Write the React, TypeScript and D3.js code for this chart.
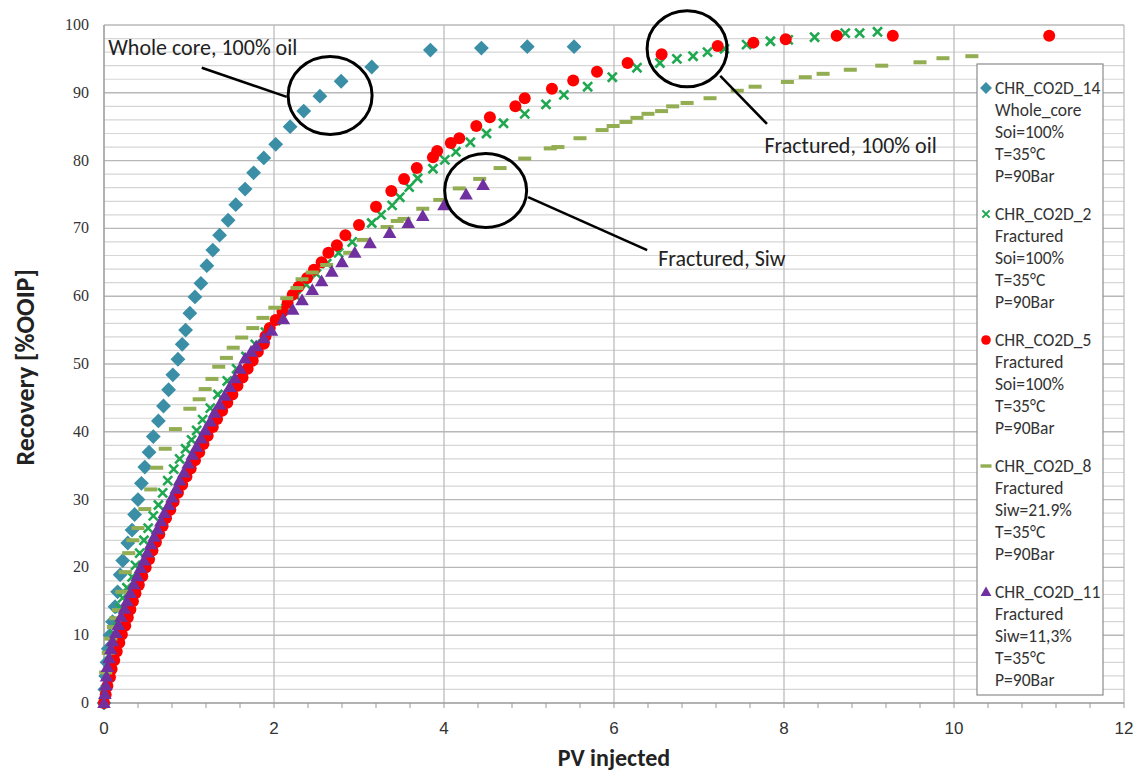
import React from "react";
import * as d3 from "d3";

// PV injected vs recovery
const co2d14: [number, number][] = [
  [0, 0], [0.01, 2], [0.02, 4], [0.035, 6], [0.05, 8], [0.07, 10], [0.1, 12], [0.13, 14.2],
  [0.16, 16.4], [0.19, 18.9], [0.22, 21], [0.28, 23.6], [0.33, 25.5], [0.36, 27.8], [0.4, 30],
  [0.44, 32.4], [0.48, 34.8], [0.53, 37], [0.58, 39.3], [0.64, 41.6], [0.7, 43.8], [0.76, 46.2],
  [0.81, 48.4], [0.87, 50.7], [0.92, 52.9], [0.96, 55], [1.01, 57.5], [1.07, 59.9], [1.14, 61.9],
  [1.21, 64.5], [1.28, 66.8], [1.36, 69], [1.46, 71.2], [1.55, 73.5], [1.66, 75.8], [1.76, 78.2],
  [1.88, 80.4], [2.02, 82.4], [2.19, 85], [2.35, 87.3], [2.54, 89.5], [2.79, 91.7], [3.15, 93.8],
  [3.84, 96.3], [4.44, 96.6], [4.98, 96.8], [5.53, 96.8],
];

const co2d2: [number, number][] = [
  [0, 0], [0.02, 2], [0.04, 4], [0.06, 6], [0.09, 8], [0.12, 10], [0.15, 12], [0.19, 14],
  [0.22, 15.5], [0.27, 17], [0.33, 18.6], [0.37, 20.3], [0.42, 22.1], [0.47, 24], [0.52, 25.8],
  [0.58, 27.6], [0.64, 29.2], [0.69, 31], [0.75, 32.8], [0.82, 34.5], [0.89, 36], [0.96, 37.5],
  [1.03, 38.8], [1.09, 40.2], [1.16, 41.8], [1.25, 43.5], [1.34, 45.5], [1.45, 47.5], [1.56, 49.3],
  [1.67, 51.1], [1.78, 52.9], [1.9, 54.7], [2.02, 56.4], [2.14, 58.2], [2.26, 60], [2.38, 61.7],
  [2.5, 63.3], [2.62, 64.8], [2.76, 66.4], [2.92, 68], [3.15, 70.8], [3.26, 72], [3.39, 73.4],
  [3.48, 74.6], [3.59, 76.1], [3.69, 77.4], [3.87, 78.8], [4.01, 80.1], [4.14, 81.3], [4.31, 82.7],
  [4.5, 84], [4.7, 85.5], [4.95, 86.9], [5.2, 88.3], [5.41, 89.7], [5.69, 90.9], [5.98, 92.3],
  [6.27, 93.7], [6.54, 94.4], [6.74, 95], [6.93, 95.4], [7.1, 96], [7.3, 96.5], [7.56, 97.1],
  [7.84, 97.6], [8.05, 97.8], [8.36, 98.2], [8.72, 98.8], [8.89, 98.8], [9.1, 99],
];

const co2d5: [number, number][] = [
  [0, 0], [0.02, 1.2], [0.04, 2.5], [0.07, 3.8], [0.09, 5], [0.12, 6.3], [0.15, 7.6], [0.18, 8.9],
  [0.21, 10.1], [0.25, 11.4], [0.28, 12.6], [0.31, 13.8], [0.34, 15], [0.37, 16.2], [0.41, 17.4],
  [0.45, 18.7], [0.49, 20], [0.53, 21.2], [0.57, 22.5], [0.61, 23.7], [0.65, 24.9], [0.69, 26.1],
  [0.73, 27.3], [0.78, 28.5], [0.82, 29.7], [0.87, 31], [0.92, 32.2], [0.97, 33.4], [1.02, 34.6],
  [1.07, 35.8], [1.12, 37], [1.17, 38.2], [1.22, 39.4], [1.28, 40.7], [1.33, 41.9], [1.39, 43.1],
  [1.45, 44.3], [1.51, 45.5], [1.57, 46.8], [1.63, 48], [1.69, 49.3], [1.75, 50.5], [1.81, 51.8],
  [1.88, 53], [1.9, 54.1], [1.95, 55.3], [2.02, 56.5], [2.1, 57.7], [2.16, 59], [2.22, 60.2],
  [2.29, 61.4], [2.39, 62.7], [2.47, 63.9], [2.56, 65], [2.64, 66.4], [2.74, 67.5], [2.84, 69],
  [3.0, 70.5], [3.2, 73.2], [3.38, 75.5], [3.53, 77.3], [3.68, 78.9], [3.87, 80.5], [3.92, 81.4],
  [4.08, 82.6], [4.18, 83.3], [4.38, 85.1], [4.54, 86.4], [4.84, 88], [4.95, 89.2], [5.27, 90.6],
  [5.52, 91.8], [5.8, 93.1], [6.16, 94.4], [6.56, 95.7], [7.22, 96.9], [7.64, 97.4], [8.02, 97.9],
  [8.62, 98.4], [9.28, 98.4], [11.12, 98.4],
];

const co2d8: [number, number][] = [
  [0.02, 4.5], [0.05, 7.4], [0.08, 9.5], [0.11, 11.2], [0.14, 12.5], [0.17, 13.7], [0.21, 16.4],
  [0.25, 19.3], [0.29, 22.1], [0.34, 24], [0.4, 25.8], [0.48, 28.6], [0.55, 31.5], [0.62, 34.7],
  [0.72, 37.5], [0.84, 40.4], [1.01, 43.4], [1.12, 44.8], [1.19, 46.3], [1.27, 47.8], [1.35, 49.6],
  [1.44, 50.9], [1.52, 52.4], [1.62, 53.9], [1.75, 55.3], [1.87, 56.8], [2.01, 58.3], [2.15, 59.7],
  [2.27, 61.2], [2.33, 62.5], [2.45, 63.5], [2.62, 64.6], [2.89, 66.4], [3.05, 68.3], [3.33, 70.2],
  [3.45, 71.1], [3.53, 71.4], [3.75, 72.9], [3.95, 74.2], [4.18, 75.9], [4.42, 77.3], [4.66, 78.9],
  [4.95, 80.3], [5.25, 81.8], [5.34, 82], [5.6, 83.3], [5.86, 84.5], [5.99, 85.1], [6.14, 85.7],
  [6.27, 86.3], [6.4, 86.9], [6.56, 87.3], [6.69, 88], [6.86, 88.5], [7.13, 89.2], [7.45, 90.3],
  [7.66, 90.9], [8.04, 91.6], [8.25, 92.3], [8.46, 92.8], [8.78, 93.4], [9.15, 94], [9.6, 94.5],
  [9.87, 95.1], [10.21, 95.4],
];

const co2d11: [number, number][] = [
  [0, 0], [0.01, 1.3], [0.02, 2.6], [0.03, 3.9], [0.04, 5.3], [0.06, 6.6], [0.08, 7.9], [0.1, 9.1],
  [0.14, 10.3], [0.17, 11.5], [0.2, 12.7], [0.24, 13.9], [0.27, 15], [0.31, 16.2], [0.35, 17.5],
  [0.39, 18.7], [0.43, 19.9], [0.47, 21], [0.51, 22.2], [0.55, 23.4], [0.59, 24.5], [0.63, 25.6],
  [0.67, 26.8], [0.71, 28], [0.76, 29.2], [0.8, 30.3], [0.85, 31.6], [0.89, 32.8], [0.94, 34],
  [0.99, 35.3], [1.04, 36.6], [1.09, 37.8], [1.14, 39], [1.19, 40.2], [1.25, 41.5], [1.3, 42.8],
  [1.36, 44], [1.42, 45.3], [1.48, 46.6], [1.54, 47.9], [1.6, 49.3], [1.66, 50.8], [1.73, 51.8],
  [1.79, 52.6], [1.88, 53.8], [1.97, 54.9], [2.11, 56.6], [2.22, 58], [2.33, 59.4], [2.45, 60.9],
  [2.56, 62.2], [2.68, 63.6], [2.8, 65], [2.95, 66.4], [3.13, 67.8], [3.36, 69.3], [3.58, 70.8],
  [3.75, 71.8], [4.0, 73.4], [4.26, 75], [4.46, 76.4],
];

const xTicks = [0, 2, 4, 6, 8, 10, 12];
const yTicks = [0, 10, 20, 30, 40, 50, 60, 70, 80, 90, 100];

const legendLines = [
  ["CHR_CO2D_14", "Whole_core", "Soi=100%", "T=35\u00B0C", "P=90Bar"],
  ["CHR_CO2D_2", "Fractured", "Soi=100%", "T=35\u00B0C", "P=90Bar"],
  ["CHR_CO2D_5", "Fractured", "Soi=100%", "T=35\u00B0C", "P=90Bar"],
  ["CHR_CO2D_8", "Fractured", "Siw=21.9%", "T=35\u00B0C", "P=90Bar"],
  ["CHR_CO2D_11", "Fractured", "Siw=11,3%", "T=35\u00B0C", "P=90Bar"],
];

// annotations: label, label pos, circle center, circle radii, leader line end (data coords)
const notes = [
  { text: "Whole core, 100% oil", tx: 0.05, ty: 95.6, cx: 2.66, cy: 89.6, rx: 42, ry: 39, lx1: 1.15, ly1: 93.7, lx2: 2.15, ly2: 89.4 },
  { text: "Fractured, 100% oil", tx: 7.77, ty: 81.1, cx: 6.86, cy: 96.5, rx: 40, ry: 38, lx1: 7.25, ly1: 92.5, lx2: 7.8, ly2: 85.4 },
  { text: "Fractured, Siw", tx: 6.52, ty: 64.5, cx: 4.49, cy: 75.6, rx: 41, ry: 37, lx1: 4.99, ly1: 74.6, lx2: 6.39, ly2: 66.8 },
];

const W = 1133;
const H = 776;
const margin = { top: 25, right: 9, bottom: 73, left: 104 };

const x = d3.scaleLinear().domain([0, 12]).range([margin.left, W - margin.right]);
const y = d3.scaleLinear().domain([0, 100]).range([H - margin.bottom, margin.top]);

const colors = {
  blue: "#3a8fa6",
  green: "#1fa850",
  red: "#ff0000",
  olive: "#93ad52",
  purple: "#7030a0",
};

const diamond = d3.symbol(d3.symbolSquare, 110)()!;
const triangle = d3.symbol(d3.symbolTriangle, 80)()!;
const cross = d3.symbol(d3.symbolX, 55)()!;

const Diamond = ({ px, py }: { px: number; py: number }) => (
  <path d={diamond} transform={`translate(${px},${py}) rotate(45)`} fill={colors.blue} />
);
const Cross = ({ px, py }: { px: number; py: number }) => (
  <path d={cross} transform={`translate(${px},${py})`} fill="none" stroke={colors.green} strokeWidth={2.6} />
);
const Dot = ({ px, py }: { px: number; py: number }) => (
  <circle cx={px} cy={py} r={6} fill={colors.red} />
);
const Dash = ({ px, py }: { px: number; py: number }) => (
  <rect x={px - 6.5} y={py - 2} width={13} height={4} fill={colors.olive} />
);
const Tri = ({ px, py }: { px: number; py: number }) => (
  <path d={triangle} transform={`translate(${px},${py + 1})`} fill={colors.purple} />
);

const markers = [Diamond, Cross, Dot, Dash, Tri];
const seriesList = [co2d14, co2d2, co2d5, co2d8, co2d11];

export default function App() {
  const minorY = d3.range(0, 101, 2);
  const minorX = d3.range(0, 12.01, 0.4);
  const font = "Carlito, 'Open Sans', 'Noto Sans', sans-serif";

  return (
    <svg width={W} height={H} style={{ position: "absolute", left: 0, top: 0, background: "#fff" }}>
      {/* horizontal grid */}
      {minorY.map((v) => (
        <line key={"h" + v} x1={x(0)} x2={x(12)} y1={y(v)} y2={y(v)}
          stroke={v % 10 === 0 ? "#b8b8b8" : "#d6d6d6"} strokeWidth={v % 10 === 0 ? 1.4 : 1.2} />
      ))}
      {/* vertical grid */}
      {xTicks.map((v) => (
        <line key={"v" + v} x1={x(v)} x2={x(v)} y1={y(0)} y2={y(100)} stroke="#b8b8b8" strokeWidth={1.2} />
      ))}
      {/* minor ticks on x axis */}
      {minorX.map((v, i) => (
        <line key={"t" + i} x1={x(v)} x2={x(v)} y1={y(0)} y2={y(0) + 5} stroke="#999" strokeWidth={1} />
      ))}
      <line x1={x(0)} x2={x(12)} y1={y(0)} y2={y(0)} stroke="#999" strokeWidth={1.2} />
      <line x1={x(0)} x2={x(0)} y1={y(0)} y2={y(100)} stroke="#999" strokeWidth={1.2} />

      {/* tick labels */}
      {yTicks.map((v) => (
        <text key={"yl" + v} x={x(0) - 15} y={y(v) + 5} textAnchor="end"
          fontFamily="'Liberation Serif', serif" fontSize={16} fill="#333">{v}</text>
      ))}
      {xTicks.map((v) => (
        <text key={"xl" + v} x={x(v)} y={y(0) + 31} textAnchor="middle"
          fontFamily="'Liberation Sans Narrow', 'Liberation Sans', sans-serif" fontSize={17} fill="#333">{v}</text>
      ))}

      {/* axis titles */}
      <text x={(x(0) + x(12)) / 2} y={766} textAnchor="middle" fontFamily={font}
        fontWeight="bold" fontSize={24} fill="#222">PV injected</text>
      <text transform={`translate(34,${y(49.5)}) rotate(-90)`} textAnchor="middle" fontFamily={font}
        fontWeight="bold" fontSize={26} fill="#222">Recovery [%OOIP]</text>

      {/* series */}
      {seriesList.map((s, si) => {
        const M = markers[si];
        return (
          <g key={"s" + si}>
            {s.map(([a, b], i) => <M key={i} px={x(a)} py={y(b)} />)}
          </g>
        );
      })}

      {/* annotations */}
      {notes.map((n, i) => (
        <g key={"n" + i}>
          <ellipse cx={x(n.cx)} cy={y(n.cy)} rx={n.rx} ry={n.ry} fill="none" stroke="#000" strokeWidth={3} />
          <line x1={x(n.lx1)} y1={y(n.ly1)} x2={x(n.lx2)} y2={y(n.ly2)} stroke="#000" strokeWidth={2.5} />
          <text x={x(n.tx)} y={y(n.ty)} fontFamily={font} fontSize={22} fill="#222">{n.text}</text>
        </g>
      ))}

      {/* legend */}
      <rect x={977} y={64} width={126} height={631} fill="#fff" stroke="#8c8c8c" strokeWidth={1.2} />
      {legendLines.map((lines, i) => {
        const top = 88 + i * 126;
        const M = markers[i];
        return (
          <g key={"lg" + i}>
            <g transform={`translate(986,${top}) scale(${i === 3 ? 0.85 : 0.8})`}>
              <M px={0} py={0} />
            </g>
            {lines.map((t, j) => (
              <text key={j} x={995} y={top + 6 + j * 22} fontFamily={font} fontSize={17.5} fill="#333">{t}</text>
            ))}
          </g>
        );
      })}
    </svg>
  );
}
